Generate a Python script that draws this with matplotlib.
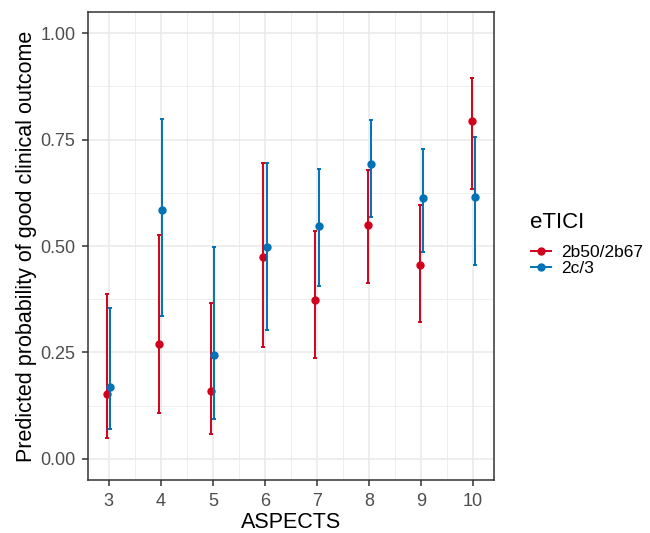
import matplotlib.pyplot as plt
from matplotlib.lines import Line2D
from matplotlib.ticker import MultipleLocator
import numpy as np

plt.rcParams['font.family'] = ['Liberation Sans', 'DejaVu Sans']

# ASPECTS score on x, predicted probability + 95% CI per eTICI group
aspects = [3, 4, 5, 6, 7, 8, 9, 10]
groups = ['2b50/2b67', '2c/3']

prob_2b = [0.153, 0.269, 0.159, 0.474, 0.373, 0.549, 0.455, 0.793]
low_2b = [0.048, 0.108, 0.059, 0.263, 0.237, 0.413, 0.322, 0.635]
high_2b = [0.387, 0.526, 0.365, 0.694, 0.535, 0.678, 0.596, 0.895]

prob_2c = [0.169, 0.585, 0.243, 0.498, 0.547, 0.692, 0.614, 0.615]
low_2c = [0.070, 0.336, 0.094, 0.303, 0.407, 0.567, 0.486, 0.455]
high_2c = [0.354, 0.799, 0.497, 0.694, 0.680, 0.795, 0.728, 0.756]

colores = ['#D0021B', '#0072B5']
dodge = 0.03

fig = plt.figure(figsize=(6.5, 5.33), dpi=100)
ax = fig.add_axes([0.1354, 0.0994, 0.6246, 0.8781])

series = [(prob_2b, low_2b, high_2b), (prob_2c, low_2c, high_2c)]
for i, (p, lo, hi) in enumerate(series):
    x = np.array(aspects) + (i - 0.5) * 2 * dodge
    p = np.array(p)
    err = [p - np.array(lo), np.array(hi) - p]
    ax.errorbar(x, p, yerr=err, fmt='o', color=colores[i], ms=5,
                elinewidth=1.4, capsize=1.2, capthick=1.4, zorder=3 + i)

ax.set_xlim(2.6, 10.4)
ax.set_ylim(-0.05, 1.05)
ax.set_xticks(aspects)
ax.set_yticks([0, 0.25, 0.5, 0.75, 1.0])
ax.set_yticklabels(['0.00', '0.25', '0.50', '0.75', '1.00'])
ax.xaxis.set_minor_locator(MultipleLocator(0.5))
ax.yaxis.set_minor_locator(MultipleLocator(0.125))
ax.tick_params(which='minor', length=0)
ax.tick_params(which='major', length=4, width=1.1, color='#333333',
               labelcolor='#4D4D4D', labelsize=13, pad=5)
ax.grid(which='major', color='#EBEBEB', lw=1.2)
ax.grid(which='minor', color='#EBEBEB', lw=0.6)
ax.set_axisbelow(True)
for sp in ax.spines.values():
    sp.set_color('#333333')
    sp.set_linewidth(1.1)

ax.set_xlabel('ASPECTS', fontsize=15.5, labelpad=1.5)
ax.set_ylabel('Predicted probability of good clinical outcome', fontsize=15.5, labelpad=2)

# legend: titulo aparte para controlar el espacio
fig.text(530 / 650, 1 - 222 / 533, 'eTICI', fontsize=16, va='center', ha='left')
handles = [Line2D([], [], color=c, marker='o', ms=5, lw=1.4) for c in colores]
leg = fig.legend(handles, groups, loc='center left',
                 bbox_to_anchor=(0.817, 0.511), frameon=False, fontsize=12.5,
                 handlelength=1.15, handletextpad=0.57,
                 labelspacing=0.05, borderaxespad=0, borderpad=0)

fig.savefig('out.png', dpi=100)
